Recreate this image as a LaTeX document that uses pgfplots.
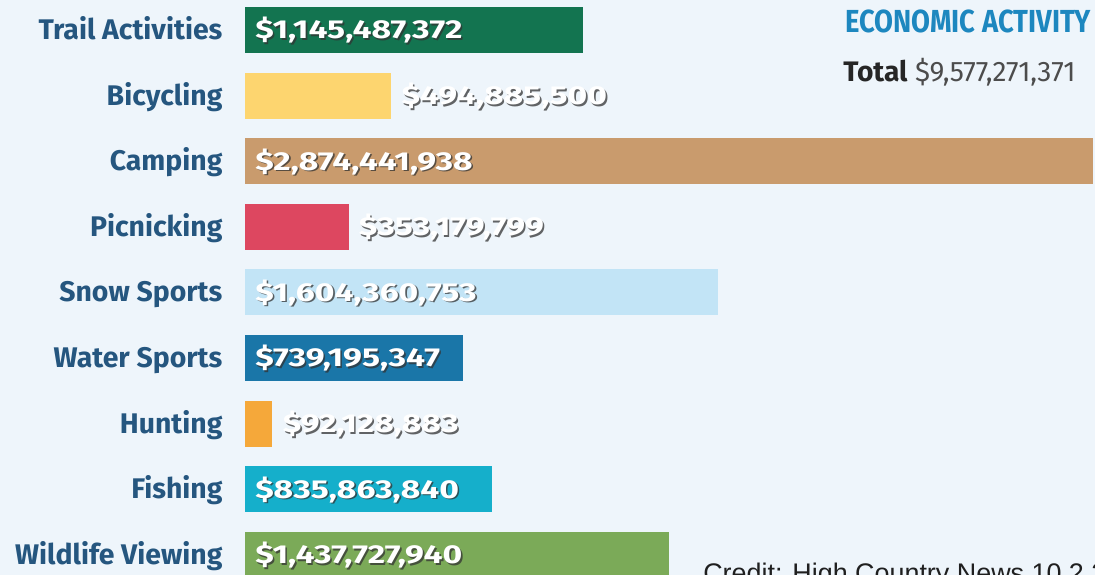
\documentclass[border=0pt]{standalone}
\usepackage{pgfplots}
\pgfplotsset{compat=1.18}
\usepackage{fontspec}
\setmainfont{Fira Sans}
\newfontfamily\creditfont{Liberation Sans}
\definecolor{bgc}{HTML}{EEF5FB}
\definecolor{labc}{HTML}{25567F}
\definecolor{titc}{HTML}{1D87BF}
\definecolor{cTrail}{HTML}{137450}
\definecolor{cBike}{HTML}{FDD56F}
\definecolor{cCamp}{HTML}{C99B6D}
\definecolor{cPic}{HTML}{DD4760}
\definecolor{cSnow}{HTML}{C2E4F6}
\definecolor{cWater}{HTML}{1A76A8}
\definecolor{cHunt}{HTML}{F5A83A}
\definecolor{cFish}{HTML}{15AFCB}
\definecolor{cWild}{HTML}{7BAA58}
\newcommand{\lab}[2]{\node[anchor=base east, text=labc, inner sep=0pt, font=\bfseries\fontsize{28.5}{30}\selectfont] at ([yshift=-9.5bp]axis cs:-0.076,#1) {#2};}
\newcommand{\val}[3]{%
\node[anchor=base west, inner sep=0pt, text=black!80, opacity=0.75, font=\bfseries\fontsize{26}{28}\selectfont] at ([xshift=1.6bp,yshift=-10.6bp]axis cs:#1,#2) {\scalebox{1.3}[1]{#3}};
\node[anchor=base west, inner sep=0pt, text=white, font=\bfseries\fontsize{26}{28}\selectfont] at ([yshift=-9bp]axis cs:#1,#2) {\scalebox{1.3}[1]{#3}};}
\begin{document}
\begin{tikzpicture}
\fill[bgc] (0,0) rectangle (1095bp,575bp);
\useasboundingbox (0,0) rectangle (1095bp,575bp);
\begin{axis}[
  at={(0,0)}, anchor=south west,
  width=1095bp, height=575bp, scale only axis,
  xmin=-0.8305, xmax=2.881, ymin=-0.308, ymax=8.457,
  hide axis, clip=false,
]
\addplot[xbar, bar width=0.70, bar shift=0pt, fill=cTrail, draw=none] coordinates {(1.145487372,8)};
\addplot[xbar, bar width=0.70, bar shift=0pt, fill=cBike, draw=none] coordinates {(0.494885500,7)};
\addplot[xbar, bar width=0.70, bar shift=0pt, fill=cCamp, draw=none] coordinates {(2.874441938,6)};
\addplot[xbar, bar width=0.70, bar shift=0pt, fill=cPic, draw=none] coordinates {(0.353179799,5)};
\addplot[xbar, bar width=0.70, bar shift=0pt, fill=cSnow, draw=none] coordinates {(1.604360753,4)};
\addplot[xbar, bar width=0.70, bar shift=0pt, fill=cWater, draw=none] coordinates {(0.739195347,3)};
\addplot[xbar, bar width=0.70, bar shift=0pt, fill=cHunt, draw=none] coordinates {(0.092128883,2)};
\addplot[xbar, bar width=0.70, bar shift=0pt, fill=cFish, draw=none] coordinates {(0.835863840,1)};
\addplot[xbar, bar width=0.70, bar shift=0pt, fill=cWild, draw=none] coordinates {(1.437727940,0)};
\lab{8}{Trail Activities}
\lab{7}{Bicycling}
\lab{6}{Camping}
\lab{5}{Picnicking}
\lab{4}{Snow Sports}
\lab{3}{Water Sports}
\lab{2}{Hunting}
\lab{1}{Fishing}
\lab{0}{Wildlife Viewing}
\val{0.034}{8}{\$1,145,487,372}
\val{0.530}{7}{\$494,885,500}
\val{0.034}{6}{\$2,874,441,938}
\val{0.385}{5}{\$353,179,799}
\val{0.034}{4}{\$1,604,360,753}
\val{0.034}{3}{\$739,195,347}
\val{0.128}{2}{\$92,128,883}
\val{0.034}{1}{\$835,863,840}
\val{0.034}{0}{\$1,437,727,940}
\node[anchor=base west, text=titc, font=\bfseries\fontsize{32}{34}\selectfont, inner sep=0pt] at (axis cs:2.0339,7.954) {\scalebox{0.86}[1]{ECONOMIC ACTIVITY}};
\node[anchor=base west, text=black!85, font=\fontsize{28.3}{30}\selectfont, inner sep=0pt] at (axis cs:2.0271,7.207) {\textbf{Total} \textcolor{black!70}{\$9,577,271,371}};
\node[anchor=base west, text=black!88, font=\creditfont\fontsize{27}{30}\selectfont, inner sep=0pt] at (axis cs:1.5525,-0.415) {Credit: High Country News 10.2.20};
\end{axis}
\end{tikzpicture}
\end{document}
